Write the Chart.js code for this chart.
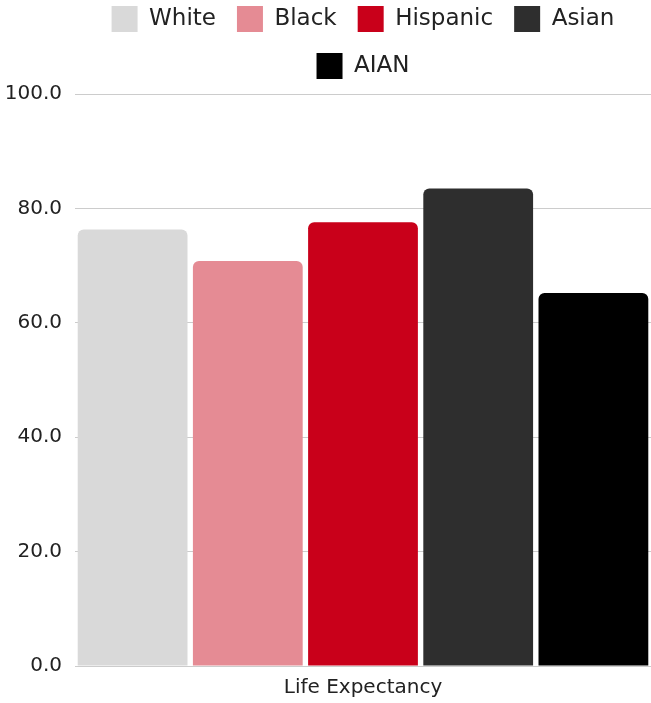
<!DOCTYPE html>
<html>
<head>
<meta charset="utf-8">
<script src="https://cdn.jsdelivr.net/npm/chart.js@4"></script>
<style>
  html, body { margin: 0; padding: 0; background: #fff; }
  #wrap { width: 651px; height: 703px; }
</style>
</head>
<body>
<div id="wrap"><canvas id="chart"></canvas></div>
<script>
// data
const categories = ['Life Expectancy'];
const groups = ['White', 'Black', 'Hispanic', 'Asian', 'AIAN'];
const lifeExpectancy = [76.3, 70.8, 77.6, 83.5, 65.2];
const groupColors = ['#d9d9d9', '#e58b94', '#c9001a', '#2e2e2e', '#000000'];

const ctx = document.getElementById('chart').getContext('2d');

// legend: a little extra room below it, and centred over the plot area
const legendTweak = {
    id: 'legendTweak',
    afterInit(chart) {
        const fit = chart.legend.fit;
        chart.legend.fit = function () {
            fit.call(this);
            this.height += 5;
        };
    },
    afterLayout(chart) {
        const lg = chart.legend;
        lg.left = chart.chartArea.left;
        lg.width = lg.right - lg.left;
    }
};

new Chart(ctx, {
    type: 'bar',
    data: {
        labels: categories,
        datasets: groups.map((name, i) => ({
            label: name,
            data: [lifeExpectancy[i]],
            backgroundColor: groupColors[i],
            borderRadius: { topLeft: 6, topRight: 6 },
            borderSkipped: 'bottom',
            barPercentage: 0.953,
            categoryPercentage: 1.0
        }))
    },
    options: {
        responsive: true,
        maintainAspectRatio: false,
        animation: false,
        layout: { padding: { top: -15, right: 0, left: 0, bottom: 1 } },
        plugins: {
            legend: {
                position: 'top',
                labels: {
                    boxWidth: 26,
                    boxHeight: 26,
                    padding: 21,
                    color: '#222',
                    font: { family: 'DejaVu Sans', size: 23 }
                }
            },
            tooltip: { enabled: false }
        },
        scales: {
            x: {
                grid: { display: false },
                border: { display: false },
                ticks: { color: '#222', font: { family: 'DejaVu Sans', size: 20 }, padding: 2 }
            },
            y: {
                min: 0,
                max: 100,
                border: { display: false },
                grid: { color: '#cccccc', drawTicks: false },
                afterFit: s => { s.width = 75; },
                ticks: {
                    stepSize: 20,
                    padding: 13,
                    color: '#222',
                    font: { family: 'DejaVu Sans', size: 20 },
                    callback: v => v.toFixed(1)
                }
            }
        }
    },
    plugins: [legendTweak]
});
</script>
</body>
</html>
